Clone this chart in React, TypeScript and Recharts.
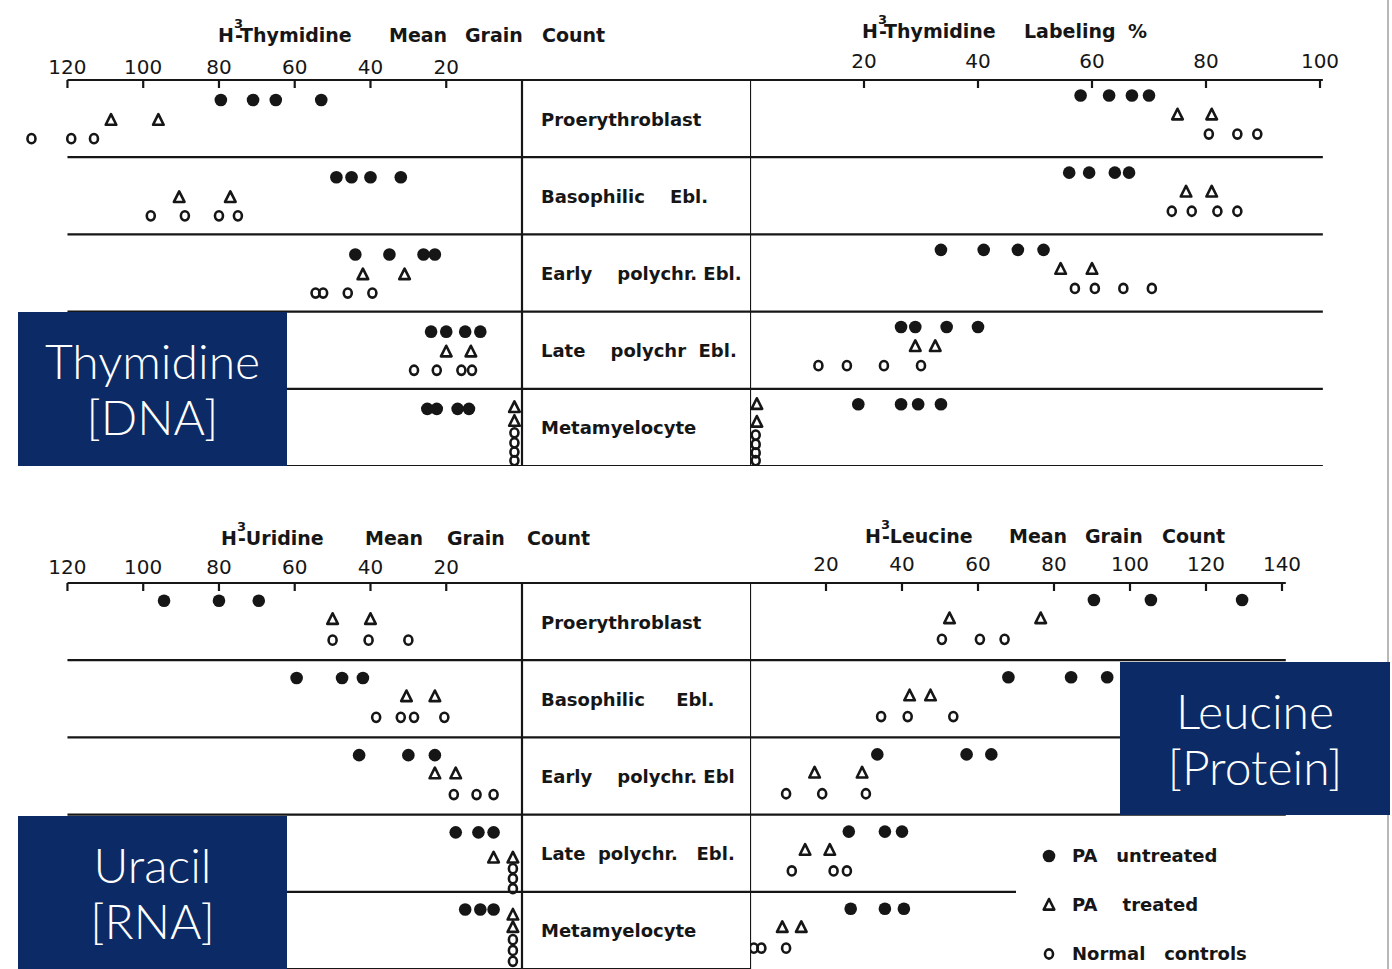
import React from "react";
import { ScatterChart, Scatter, XAxis, YAxis, ReferenceLine, Legend } from "recharts";

// a point is either a value (drawn on the series lane) or [value, lane inside the row]
type Pt = number | [number, number];

const CELLS_TOP = [
  "Proerythroblast",
  "Basophilic    Ebl.",
  "Early    polychr. Ebl.",
  "Late    polychr  Ebl.",
  "Metamyelocyte",
];
const CELLS_BOTTOM = [
  "Proerythroblast",
  "Basophilic     Ebl.",
  "Early    polychr. Ebl",
  "Late  polychr.   Ebl.",
  "Metamyelocyte",
];

const GRAIN_TICKS = [20, 40, 60, 80, 100, 120];
const LABEL_TICKS = [20, 40, 60, 80, 100];
const LEUCINE_TICKS = [20, 40, 60, 80, 100, 120, 140];

// H3-Thymidine mean grain count
const THY_GRAIN_UNTREATED: Pt[][] = [
  [79.5, 71, 65, 53],
  [49, 45, 40, 32],
  [44, 35, 26, 23],
  [24, 20, 15, 11],
  [25, 22.5, 17, 14],
];
const THY_GRAIN_TREATED: Pt[][] = [
  [108.5, 96],
  [90.5, 77],
  [42, 31],
  [20, 13.5],
  [[2, 0.24], [2, 0.42]],
];
const THY_GRAIN_CONTROLS: Pt[][] = [
  [129.5, 119, 113],
  [98, 89, 80, 75],
  [54.5, 52.5, 46, 39.5],
  [28.5, 22.5, 16, 13.2],
  [[2, 0.57], [2, 0.7], [2, 0.82], [2, 0.93]],
];

// H3-Thymidine labeling %
const THY_PCT_UNTREATED: Pt[][] = [
  [58, 63, 67, 70],
  [56, 59.5, 64, 66.5],
  [33.5, 41, 47, 51.5],
  [26.5, 29, 34.5, 40],
  [19, 26.5, 29.5, 33.5],
];
const THY_PCT_TREATED: Pt[][] = [
  [75, 81],
  [76.5, 81],
  [54.5, 60],
  [29, 32.5],
  [[1.2, 0.2], [1.2, 0.43]],
];
const THY_PCT_CONTROLS: Pt[][] = [
  [80.5, 85.5, 89],
  [74, 77.5, 82, 85.5],
  [57, 60.5, 65.5, 70.5],
  [12, 17, 23.5, 30],
  [[1, 0.6], [1, 0.72], [1, 0.83], [1, 0.93]],
];

// H3-Uridine mean grain count
const URI_UNTREATED: Pt[][] = [
  [94.5, 80, 69.5],
  [59.5, 47.5, 42],
  [43, 30, 23],
  [17.5, 11.5, 7.5],
  [15, 11, 7.5],
];
const URI_TREATED: Pt[][] = [
  [50, 40],
  [30.5, 23],
  [23, 17.5],
  [[7.5, 0.56], [2.4, 0.56]],
  [[2.4, 0.3], [2.4, 0.46]],
];
const URI_CONTROLS: Pt[][] = [
  [50, 40.5, 30],
  [38.5, 32, 28.5, 20.5],
  [18, 12, 7.5],
  [[2.4, 0.7], [2.4, 0.83], [2.4, 0.96]],
  [[2.4, 0.62], [2.4, 0.76], [2.4, 0.9]],
];

// H3-Leucine mean grain count
const LEU_UNTREATED: Pt[][] = [
  [90.5, 105.5, 129.5],
  [68, 84.5, 94],
  [33.5, 57, 63.5],
  [26, 35.5, 40],
  [26.5, 35.5, 40.5],
];
const LEU_TREATED: Pt[][] = [
  [52.5, 76.5],
  [42, 47.5],
  [17, 29.5],
  [14.5, 21],
  [8.5, 13.5],
];
const LEU_CONTROLS: Pt[][] = [
  [50.5, 60.5, 67],
  [34.5, 41.5, 53.5],
  [9.5, 19, 30.5],
  [11, 22, 25.5],
  [1, 3, 9.5],
];

const INK = "#161616";
const FONT = "DejaVu Sans";
const MID_W = 228;
const ROWS = [0, 1, 2, 3, 4, 5];

function toPoints(rows: Pt[][], lane: number) {
  return rows.flatMap((pts, r) =>
    pts.map((p) => (Array.isArray(p) ? { x: p[0], y: r + p[1] } : { x: p, y: r + lane }))
  );
}

const Filled = (p: any) => <circle cx={p.cx} cy={p.cy} r={6.3} fill={INK} />;
const Tri = (p: any) => (
  <path
    d={`M${p.cx},${p.cy - 6} L${p.cx + 5.3},${p.cy + 4.6} L${p.cx - 5.3},${p.cy + 4.6} Z`}
    fill="none"
    stroke={INK}
    strokeWidth={2.6}
    strokeLinejoin="round"
  />
);
const Ring = (p: any) => (
  <ellipse cx={p.cx} cy={p.cy} rx={4} ry={4.6} fill="none" stroke={INK} strokeWidth={2.6} />
);

const axisTick = (margin: number) => (p: any) => (
  <g>
    <line x1={p.x} x2={p.x} y1={p.y + margin} y2={p.y + margin + 8} stroke={INK} strokeWidth={2.2} />
    <text x={p.x} y={p.y} textAnchor="middle" fontFamily={FONT} fontSize={20} fill={INK}>
      {p.payload.value}
    </text>
  </g>
);

// axis title; recharts clones the label with its own x/y, so the position uses other names
function Title({ iso, at, base, words }: { iso: string; at: number; base: number; words: [string, number][] }) {
  return (
    <text x={at} y={base} fontFamily={FONT} fontWeight="bold" fontSize={19} fill={INK}>
      <tspan x={at}>H</tspan>
      <tspan dy={-14} fontSize={13}>3</tspan>
      <tspan dy={14} dx={-8}>-{iso}</tspan>
      {words.map(([w, wx]) => (
        <tspan key={w} x={wx}>{w}</tspan>
      ))}
    </text>
  );
}

const extendRight = (p: any) => (
  <line
    x1={Math.min(p.x1, p.x2)}
    x2={Math.max(p.x1, p.x2) + MID_W}
    y1={p.y1}
    y2={p.y2}
    stroke={INK}
    strokeWidth={2.2}
  />
);

function LeftPanel({ cells, untreated, treated, controls, lanes, title, tickMargin }: any) {
  return (
    <ScatterChart width={750} height={466} margin={{ top: 20, right: 0, bottom: 0, left: 22 }}>
      <XAxis
        type="number"
        dataKey="x"
        orientation="top"
        domain={[0, 132]}
        reversed
        ticks={GRAIN_TICKS}
        interval={0}
        height={60}
        axisLine={false}
        tickLine={false}
        tickSize={0}
        tickMargin={tickMargin}
        tick={axisTick(tickMargin)}
        label={title}
      />
      <YAxis
        type="number"
        dataKey="y"
        orientation="right"
        domain={[0, 5]}
        reversed
        ticks={[0.5, 1.5, 2.5, 3.5, 4.5]}
        interval={0}
        width={MID_W}
        axisLine={{ stroke: INK, strokeWidth: 2.2 }}
        tickLine={false}
        tickSize={0}
        tickMargin={19}
        tick={(p: any) => (
          <text x={p.x} y={p.y + 7} fontFamily={FONT} fontWeight="bold" fontSize={18} fill={INK} style={{ whiteSpace: "pre" }}>
            {cells[Math.floor(p.payload.value)]}
          </text>
        )}
      />
      {ROWS.map((r) => (
        <ReferenceLine
          key={r}
          segment={[{ x: 120, y: r }, { x: 0, y: r }]}
          ifOverflow="visible"
          stroke={INK}
          strokeWidth={2.2}
          shape={extendRight}
        />
      ))}
      <Scatter name="PA untreated" data={toPoints(untreated, lanes[0])} shape={Filled} isAnimationActive={false} />
      <Scatter name="PA treated" data={toPoints(treated, lanes[1])} shape={Tri} isAnimationActive={false} />
      <Scatter name="Normal controls" data={toPoints(controls, lanes[2])} shape={Ring} isAnimationActive={false} />
    </ScatterChart>
  );
}

function RightPanel({ max, plotW, ticks, rowEnds, untreated, treated, controls, lanes, title, tickMargin, legend }: any) {
  return (
    <ScatterChart width={642} height={466} margin={{ top: 20, right: 642 - plotW, bottom: 0, left: 0 }}>
      <XAxis
        type="number"
        dataKey="x"
        orientation="top"
        domain={[0, max]}
        ticks={ticks}
        interval={0}
        height={60}
        axisLine={false}
        tickLine={false}
        tickSize={0}
        tickMargin={tickMargin}
        tick={axisTick(tickMargin)}
        label={title}
      />
      <YAxis type="number" dataKey="y" domain={[0, 5]} reversed hide />
      <ReferenceLine x={0} ifOverflow="visible" stroke={INK} strokeWidth={2.2} />
      {rowEnds.map((end: number, r: number) => (
        <ReferenceLine
          key={r}
          segment={[{ x: 0, y: r }, { x: end, y: r }]}
          ifOverflow="visible"
          stroke={INK}
          strokeWidth={2.2}
        />
      ))}
      <Scatter name="PA untreated" data={toPoints(untreated, lanes[0])} shape={Filled} isAnimationActive={false} />
      <Scatter name="PA treated" data={toPoints(treated, lanes[1])} shape={Tri} isAnimationActive={false} />
      <Scatter name="Normal controls" data={toPoints(controls, lanes[2])} shape={Ring} isAnimationActive={false} />
      {legend && (
        <Legend
          layout="vertical"
          align="center"
          verticalAlign="middle"
          wrapperStyle={{ left: 290, top: 328, width: 260, height: 150 }}
          content={() => (
            <div style={{ fontFamily: FONT, fontWeight: "bold", fontSize: 18, color: INK }}>
              {[
                { label: "PA   untreated", Shape: Filled },
                { label: "PA    treated", Shape: Tri },
                { label: "Normal   controls", Shape: Ring },
              ].map(({ label, Shape }) => (
                <div key={label} style={{ height: 49, display: "flex", alignItems: "center", whiteSpace: "pre" }}>
                  <svg width={18} height={18} style={{ marginRight: 14 }}>
                    <Shape cx={9} cy={9} />
                  </svg>
                  <span>{label}</span>
                </div>
              ))}
            </div>
          )}
        />
      )}
    </ScatterChart>
  );
}

const boxStyle: React.CSSProperties = {
  position: "absolute",
  background: "#0c2b66",
  color: "#fff",
  fontFamily: "Lato",
  fontWeight: 300,
  fontSize: 48,
  lineHeight: "56px",
  display: "flex",
  flexDirection: "column",
  justifyContent: "center",
  alignItems: "center",
  zIndex: 5,
};

export default function App() {
  return (
    <div style={{ position: "absolute", left: 0, top: 0, width: 1392, height: 969, overflow: "hidden", background: "#fff" }}>
      <div style={{ position: "absolute", left: 0, top: 0 }}>
        <LeftPanel
          cells={CELLS_TOP}
          untreated={THY_GRAIN_UNTREATED}
          treated={THY_GRAIN_TREATED}
          controls={THY_GRAIN_CONTROLS}
          lanes={[0.26, 0.52, 0.76]}
          tickMargin={6}
          title={<Title iso="Thymidine" at={218} base={42} words={[["Mean", 389], ["Grain", 465], ["Count", 542]]} />}
        />
      </div>
      <div style={{ position: "absolute", left: 750, top: 0 }}>
        <RightPanel
          max={100}
          plotW={570}
          ticks={LABEL_TICKS}
          rowEnds={[100.5, 100.5, 100.5, 100.5, 100.5, 100.5]}
          untreated={THY_PCT_UNTREATED}
          treated={THY_PCT_TREATED}
          controls={THY_PCT_CONTROLS}
          lanes={[0.2, 0.45, 0.7]}
          tickMargin={12}
          title={<Title iso="Thymidine" at={112} base={38} words={[["Labeling", 274], ["%", 378]]} />}
        />
      </div>
      <div style={{ position: "absolute", left: 0, top: 503 }}>
        <LeftPanel
          cells={CELLS_BOTTOM}
          untreated={URI_UNTREATED}
          treated={URI_TREATED}
          controls={URI_CONTROLS}
          lanes={[0.23, 0.47, 0.74]}
          tickMargin={9}
          title={<Title iso="Uridine" at={221} base={42} words={[["Mean", 365], ["Grain", 447], ["Count", 527]]} />}
        />
      </div>
      <div style={{ position: "absolute", left: 750, top: 503 }}>
        <RightPanel
          max={140}
          plotW={532}
          ticks={LEUCINE_TICKS}
          rowEnds={[141, 141, 141, 141, 70]}
          untreated={LEU_UNTREATED}
          treated={LEU_TREATED}
          controls={LEU_CONTROLS}
          lanes={[0.22, 0.46, 0.73]}
          tickMargin={12}
          legend
          title={<Title iso="Leucine" at={115} base={40} words={[["Mean", 259], ["Grain", 335], ["Count", 412]]} />}
        />
      </div>

      <div style={{ ...boxStyle, left: 18, top: 312, width: 269, height: 154 }}>
        <div>Thymidine</div>
        <div>[DNA]</div>
      </div>
      <div style={{ ...boxStyle, left: 1120, top: 662, width: 270, height: 153 }}>
        <div>Leucine</div>
        <div>[Protein]</div>
      </div>
      <div style={{ ...boxStyle, left: 18, top: 816, width: 269, height: 153 }}>
        <div>Uracil</div>
        <div>[RNA]</div>
      </div>
      <div style={{ position: "absolute", left: 1387, top: 0, width: 2, height: 969, background: "#b8b8b8" }} />
    </div>
  );
}
